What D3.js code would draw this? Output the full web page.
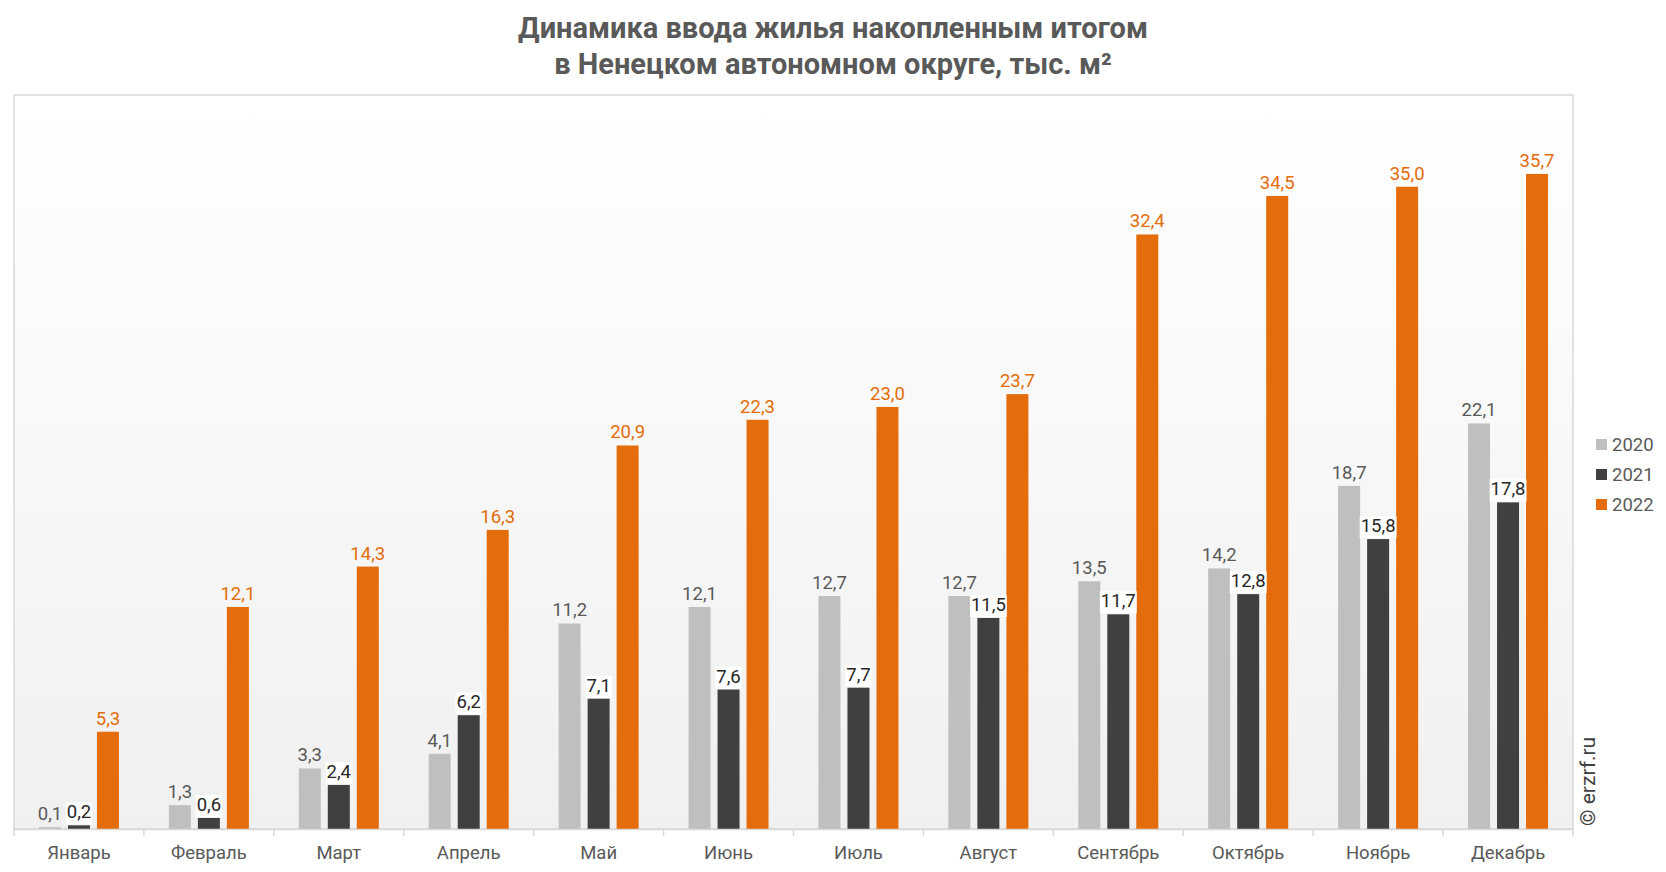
<!DOCTYPE html>
<html><head><meta charset="utf-8">
<script src="https://cdn.jsdelivr.net/npm/d3@7"></script>
<style>body{margin:0;background:#fff;}svg{display:block;font-family:Roboto,"Noto Sans",sans-serif;}</style>
</head><body>
<svg id="c" width="1666" height="872"></svg>
<script>
const months = ["Январь","Февраль","Март","Апрель","Май","Июнь","Июль","Август","Сентябрь","Октябрь","Ноябрь","Декабрь"];
const seriesNames = ["2020","2021","2022"];
const v2020 = [0.1,1.3,3.3,4.1,11.2,12.1,12.7,12.7,13.5,14.2,18.7,22.1];
const v2021 = [0.2,0.6,2.4,6.2,7.1,7.6,7.7,11.5,11.7,12.8,15.8,17.8];
const v2022 = [5.3,12.1,14.3,16.3,20.9,22.3,23.0,23.7,32.4,34.5,35.0,35.7];
const colors = ["#bfbfbf","#404040","#e46c0a"];
const labelColors = ["#595959","#262626","#e46c0a"];
const values = [v2020,v2021,v2022];

const svg = d3.select("#c");
const L=14, R=1573, T=95, B=829;
const x = d3.scaleBand().domain(months).range([L,R]);
const y = d3.scaleLinear().domain([0,40]).range([B,T]);
const barW = 22, step = 29;
const xs = d3.scalePoint().domain(seriesNames).range([-step,step]);

const defs = svg.append("defs");
const g = defs.append("linearGradient").attr("id","bg").attr("x1",0).attr("y1",0).attr("x2",0).attr("y2",1);
g.append("stop").attr("offset","0%").attr("stop-color","#ffffff");
g.append("stop").attr("offset","100%").attr("stop-color","#f0f0f0");

svg.append("rect").attr("x",L).attr("y",T).attr("width",R-L).attr("height",B-T)
  .attr("fill","url(#bg)").attr("stroke","#d9d9d9").attr("stroke-width",1.5);

// title
svg.append("text").attr("x",833).attr("y",38).attr("text-anchor","middle")
  .attr("font-size",29).attr("font-weight","bold").attr("fill","#595959")
  .text("Динамика ввода жилья накопленным итогом");
svg.append("text").attr("x",833).attr("y",74).attr("text-anchor","middle")
  .attr("font-size",29).attr("font-weight","bold").attr("fill","#595959")
  .text("в Ненецком автономном округе, тыс. м²");

// bars
seriesNames.forEach((s,si)=>{
  const data = months.map((m,i)=>({m,v:values[si][i]}));
  svg.append("g").selectAll("rect").data(data).join("rect")
    .attr("x",d=>x(d.m)+x.bandwidth()/2+xs(s)-barW/2)
    .attr("y",d=>y(d.v)).attr("width",barW).attr("height",d=>B-y(d.v))
    .attr("fill",colors[si]);
});
// labels
seriesNames.forEach((s,si)=>{
  const data = months.map((m,i)=>({m,v:values[si][i]}));
  const lg = svg.append("g").selectAll("g").data(data).join("g")
    .attr("transform",d=>`translate(${x(d.m)+x.bandwidth()/2+xs(s)},${y(d.v)-7})`);
  const bgR = si===1 ? lg.append("rect").attr("fill","#fff") : null;
  const t = lg.append("text").attr("text-anchor","middle").attr("font-size",18.5)
    .attr("fill",labelColors[si]).text(d=>d.v.toFixed(1).replace(".",","));
  if(bgR){
    t.each(function(d,i){
      const b=this.getBBox();
      d3.select(this.parentNode).select("rect")
        .attr("x",b.x-1).attr("y",b.y+1).attr("width",b.width+2).attr("height",b.height);
    });
  }
});

// axis
const ax = svg.append("g").attr("transform",`translate(0,${B})`)
  .call(d3.axisBottom(x).tickSize(0).tickPadding(17));
ax.select(".domain").attr("stroke","#d9d9d9").attr("stroke-width",1.5);
ax.selectAll("text").attr("font-size",18.5).attr("fill","#595959").attr("font-family","Roboto");
svg.append("g").selectAll("line").data(d3.range(13)).join("line")
  .attr("x1",i=>L+i*x.step()).attr("x2",i=>L+i*x.step())
  .attr("y1",B).attr("y2",B+7).attr("stroke","#d9d9d9").attr("stroke-width",1.5);

// legend
const leg = svg.append("g").attr("transform","translate(1596,445)");
seriesNames.forEach((s,i)=>{
  const r = leg.append("g").attr("transform",`translate(0,${i*30})`);
  r.append("rect").attr("x",0).attr("y",-6).attr("width",11).attr("height",11).attr("fill",colors[i]);
  r.append("text").attr("x",16).attr("y",6).attr("font-size",18.5).attr("fill","#595959").text(s);
});

// watermark
svg.append("text").attr("transform","translate(1595,826) rotate(-90)")
  .attr("font-size",21).attr("fill","#404040").text("© erzrf.ru");
</script>
</body></html>
